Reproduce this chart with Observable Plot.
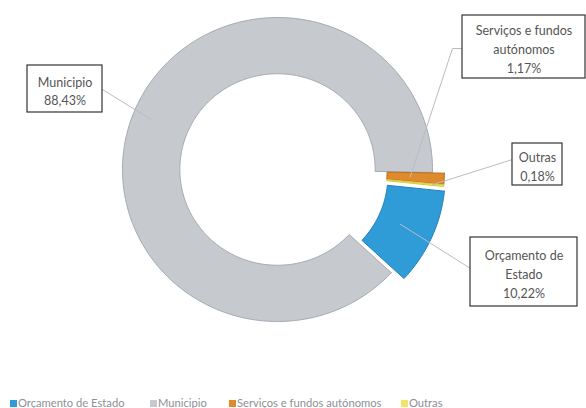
<!DOCTYPE html>
<html><head><meta charset="utf-8">
<script src="https://cdn.jsdelivr.net/npm/d3@7"></script>
<script src="https://cdn.jsdelivr.net/npm/@observablehq/plot@0.6"></script>
<style>
body{margin:0;background:#fff;font-family:Lato,"Open Sans",sans-serif;}
#legend{position:relative;height:12px;font-size:11.2px;color:#8d9096;white-space:nowrap;}
#legend .item{position:absolute;top:1px;line-height:12px;display:flex;align-items:center;}
#legend .sw{width:7px;height:7px;margin-right:1px;display:inline-block;}
</style></head><body>
<div id="chart"></div>
<div id="legend"></div>
<script>
// ---- data ----
const categories = ["Orçamento de Estado", "Municipio", "Serviços e fundos autónomos", "Outras"];
const shares = [10.22, 88.43, 1.17, 0.18];
const valueLabels = ["10,22%", "88,43%", "1,17%", "0,18%"];
const boxNames = ["Orçamento de\nEstado", "Municipio", "Serviços e fundos\nautónomos", "Outras"];
const colors = ["#2f9bd7", "#c6c9cd", "#df8b2d", "#f1e466"];
const edgeColors = ["#2480b8", "#a4aab2", "#b86d1e", "#d8c940"];

// ---- layout ----
const W = 586, H = 396;
const cx = 277, cy = 169, rx = 155, ry = 152, inner = 0.63;
const startDeg = 96;
const explode = [14, 0, 12, 12];
const boxes = [
  {x1: 470, x2: 577, y1: 237, y2: 306, ax: 470, ay: 268, rf: 0.78},
  {x1: 27, x2: 102, y1: 65, y2: 112, ax: 102, ay: 89, rf: 0.88},
  {x1: 462, x2: 585, y1: 15, y2: 78, ax: 462, ay: 48, elbow: 452, rf: 0.78},
  {x1: 512, x2: 562, y1: 143, y2: 185, ax: 512, ay: 159, rf: 0.93}
];
const legendX = [10, 150, 229, 401];

// ---- geometry from data ----
const start = startDeg * Math.PI / 180;
const arcs = d3.pie().sort(null).startAngle(start).endAngle(start + 2 * Math.PI)(shares);
const pt = (a, r, i) => {
  const m = (arcs[i].startAngle + arcs[i].endAngle) / 2;
  const ox = explode[i] * Math.sin(m), oy = -explode[i] * Math.cos(m);
  return {x: cx + ox + rx * r * Math.sin(a), y: cy + oy - ry * r * Math.cos(a)};
};
const slices = arcs.map((d, i) => {
  const n = Math.max(4, Math.ceil((d.endAngle - d.startAngle) * 60));
  const pts = [];
  for (let k = 0; k <= n; k++) pts.push(pt(d.startAngle + (d.endAngle - d.startAngle) * k / n, 1, i));
  for (let k = n; k >= 0; k--) pts.push(pt(d.startAngle + (d.endAngle - d.startAngle) * k / n, inner, i));
  pts.push(pts[0]);
  return pts.map(p => ({...p, cat: categories[i]}));
});
const leaders = arcs.flatMap((d, i) => {
  const b = boxes[i];
  const m = (d.startAngle + d.endAngle) / 2;
  const end = pt(m, b.rf, i);
  const pts = [{x: b.ax, y: b.ay}];
  if (b.elbow) pts.push({x: b.elbow, y: b.ay});
  pts.push(end);
  return pts.map(p => ({...p, cat: categories[i]}));
});
const labels = boxes.map((b, i) => ({
  ...b, cxl: (b.x1 + b.x2) / 2, cyl: (b.y1 + b.y2) / 2 + 1,
  text: boxNames[i] + "\n" + valueLabels[i]
}));

const marks = [];
slices.forEach((s, i) => marks.push(Plot.line(s, {x: "x", y: "y", fill: colors[i], stroke: edgeColors[i], strokeWidth: 1, curve: "linear"})));
marks.push(Plot.line(leaders, {x: "x", y: "y", z: "cat", stroke: "#b9bcc1", strokeWidth: 1}));
marks.push(Plot.rect(labels, {x1: "x1", x2: "x2", y1: "y1", y2: "y2", fill: "white", stroke: "#333", strokeWidth: 1.2}));
marks.push(Plot.text(labels, {x: "cxl", y: "cyl", text: "text", lineHeight: 1.5, fontSize: 12.5, fill: "#555", fontFamily: "Lato, sans-serif"}));

const chart = Plot.plot({
  width: W, height: H, margin: 0,
  x: {domain: [0, W], range: [0, W], axis: null},
  y: {domain: [0, H], range: [0, H], axis: null},
  style: {background: "white"},
  marks
});
document.getElementById("chart").appendChild(chart);

const lg = document.getElementById("legend");
categories.forEach((c, i) => {
  const it = document.createElement("div");
  it.className = "item";
  it.style.left = legendX[i] + "px";
  it.innerHTML = `<span class="sw" style="background:${colors[i]}"></span><span>${c}</span>`;
  lg.appendChild(it);
});
</script>
</body></html>
